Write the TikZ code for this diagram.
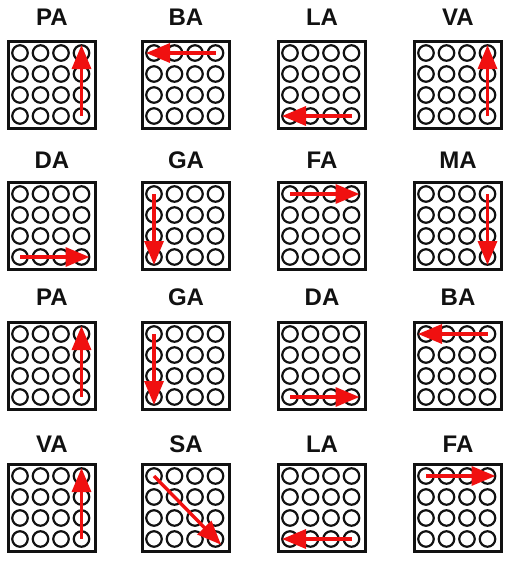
\documentclass[tikz,border=0pt]{standalone}
\usepackage{fontspec}
\setmainfont{Liberation Sans}
\usetikzlibrary{arrows.meta}
\definecolor{Ink}{HTML}{111111}
\definecolor{Move}{HTML}{F01010}
\tikzset{
    tag/.style={font=\bfseries\fontsize{24}{24}\selectfont, text=Ink, inner sep=0pt},
    board/.style={rectangle, draw=Ink, line width=3.2pt, minimum size=87pt, inner sep=0pt},
    hole/.style={circle, draw=Ink, line width=2.2pt, minimum size=15.5pt, inner sep=0pt},
    move/.style={-{Triangle[length=24pt, width=19pt]}, line width=3.4pt, color=Move, shorten >=-8pt},
}
\begin{document}
\begin{tikzpicture}[x=1pt, y=-1pt]
\useasboundingbox (0,0) rectangle (515,562);
% Tafeln: Name/x/y/Name-y/von Zeile/von Spalte/nach Zeile/nach Spalte
\foreach \lbl/\x/\y/\ly/\sr/\sc/\er/\ec [count=\k] in {
    PA/7/40/17/4/4/1/4, BA/141/40/17/1/4/1/1, LA/277/40/17/4/4/4/1, VA/413/40/17/4/4/1/4,
    DA/7/181/160/4/1/4/4, GA/141/181/160/1/1/4/1, FA/277/181/160/1/1/1/4, MA/413/181/160/1/4/4/4,
    PA/7/321/297/4/4/1/4, GA/141/321/297/1/1/4/1, DA/277/321/297/4/1/4/4, BA/413/321/297/1/4/1/1,
    VA/7/463/444/4/4/1/4, SA/141/463/444/1/1/4/4, LA/277/463/444/4/4/4/1, FA/413/463/444/1/1/1/4} {
    % Name
    \node[tag] (t\k) at (\x+45,\ly) {\lbl};
    % Rahmen
    \node[board] (b\k) at (\x+45,\y+45) {};
    % Loecher
    \foreach \i in {1,...,4}
        \foreach \j in {1,...,4}
            \node[hole] (h\k-\i-\j) at (\x+13+20.5*\j-20.5, \y+13+21*\i-21) {};
    % Zug
    \draw[move] (h\k-\sr-\sc.center) -- (h\k-\er-\ec.center);
}
\end{tikzpicture}
\end{document}
